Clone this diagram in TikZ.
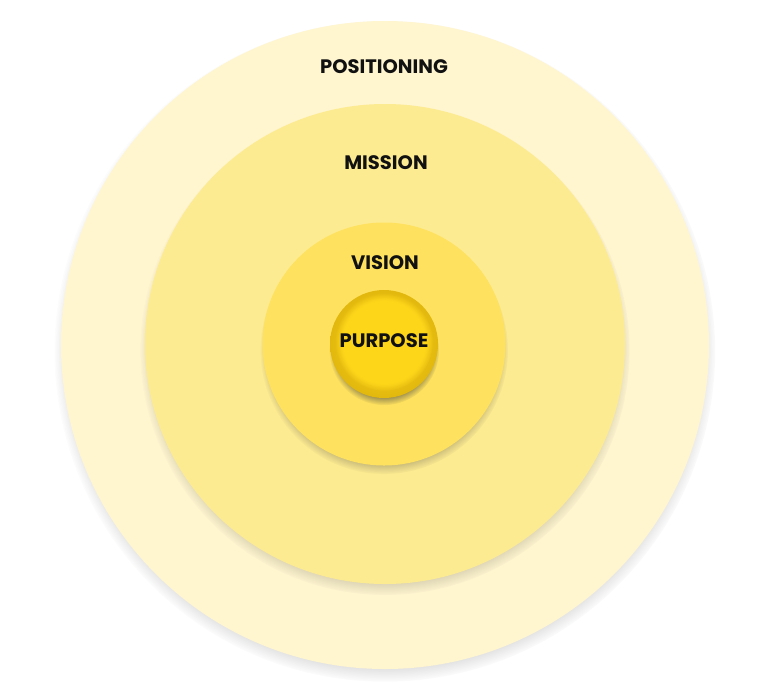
\documentclass[tikz,border=0pt]{standalone}
\usepackage{fontspec}
\setmainfont{Poppins}
\usetikzlibrary{shadows,fadings}
\definecolor{ringA}{HTML}{FFF5CF}
\definecolor{ringB}{HTML}{FDEB91}
\definecolor{ringC}{HTML}{FEE15E}
\definecolor{ringD}{HTML}{FDD61A}
\definecolor{ringDedge}{HTML}{E2B80E}
\definecolor{txt}{HTML}{111111}
\tikzset{
  ring/.style={circle, inner sep=0pt, draw=none,
    circular drop shadow={shadow xshift=0pt, shadow yshift=-6pt, shadow scale=1.02, opacity=0.5, fill=black!75}},
  lbl/.style={font=\fontsize{19.5}{22}\selectfont\bfseries, text=txt, inner sep=0pt}
}
\begin{document}
\begin{tikzpicture}[x=1pt,y=-1pt]
\useasboundingbox[fill=white] (0,0) rectangle (768,689);
\node[ring, fill=ringA, minimum size=648pt] (pos) at (385,345) {};
\node[ring, fill=ringB, minimum size=480pt] (mis) at (385,344) {};
\node[ring, fill=ringC, minimum size=243pt] (vis) at (384,344) {};
\node[ring, inner color=ringD, outer color=ringDedge, minimum size=108pt] (pur) at (384,344) {};
\node[circle, fill=ringD, minimum size=98pt, inner sep=0pt, path fading=circle with fuzzy edge 15 percent] (purc) at (384,342) {};
\node[lbl] (tpos) at (384,67) {POSITIONING};
\node[lbl] (tmis) at (386,163) {MISSION};
\node[lbl] (tvis) at (385,263) {VISION};
\node[lbl] (tpur) at (384,341) {PURPOSE};
\end{tikzpicture}
\end{document}
